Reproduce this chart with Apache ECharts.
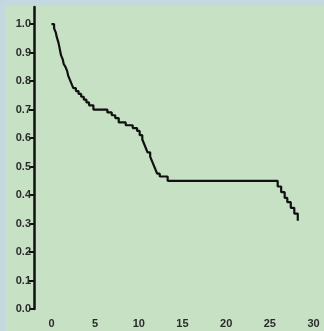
<!DOCTYPE html>
<html>
<head>
<meta charset="utf-8">
<script src="https://cdn.jsdelivr.net/npm/echarts@6/dist/echarts.min.js"></script>
<style>
html,body{margin:0;padding:0;background:#c3d9df;}
#panel{position:absolute;left:5px;top:6px;width:319px;height:325px;background:#c7e1c4;}
#chart{position:absolute;left:0;top:0;width:324px;height:331px;}
</style>
</head>
<body>
<div id="panel"></div>
<div id="chart"></div>
<script>
// Kaplan-Meier style step curve: event times and survival after each drop
var times = [0, 0.3, 0.5, 0.6, 0.8, 0.9, 1.0, 1.1, 1.3, 1.4, 1.6, 1.8, 1.9, 2.1, 2.3, 2.5, 2.8, 3.1, 3.4, 3.7, 4.0, 4.3, 4.8,
  6.4, 6.9, 7.3, 7.7, 8.5, 9.3, 9.8, 10.1, 10.4, 10.6, 10.8, 11.0, 11.3, 11.5, 11.7, 11.9, 12.1, 12.4, 13.3,
  25.9, 26.3, 26.7, 27.0, 27.4, 27.8, 28.2];
var survival = [1.00, 0.985, 0.97, 0.955, 0.935, 0.92, 0.905, 0.89, 0.875, 0.86, 0.85, 0.835, 0.82, 0.805, 0.79, 0.775, 0.765, 0.755, 0.745, 0.735, 0.725, 0.715, 0.70,
  0.69, 0.68, 0.67, 0.655, 0.645, 0.635, 0.625, 0.61, 0.595, 0.58, 0.565, 0.55, 0.535, 0.52, 0.505, 0.49, 0.475, 0.465, 0.45,
  0.43, 0.41, 0.39, 0.375, 0.355, 0.335, 0.31];
var xTickLabels = [0, 5, 10, 15, 20, 25, 30];
var yTickLabels = [0, 0.1, 0.2, 0.3, 0.4, 0.5, 0.6, 0.7, 0.8, 0.9, 1.0];

var data = times.map(function (t, i) { return [t, survival[i]]; });
var chart = echarts.init(document.getElementById('chart'), null, {renderer: 'canvas'});
var labelStyle = {color: '#2b2b2b', fontFamily: 'Liberation Sans', fontWeight: 'bold', fontSize: 11};
chart.setOption({
  backgroundColor: 'transparent',
  animation: false,
  grid: {left: 34, right: 10.5, top: 7, bottom: 22, containLabel: false},
  xAxis: {
    type: 'value', min: -2, max: 30,
    axisLine: {show: false, onZero: false},
    axisTick: {show: false},
    splitLine: {show: false},
    axisLabel: Object.assign({customValues: xTickLabels, margin: 9,
      formatter: function (v) { return String(v); }}, labelStyle)
  },
  yAxis: {
    type: 'value', min: 0, max: 1.06,
    axisLine: {show: true, onZero: false, lineStyle: {color: '#111', width: 2.5}},
    axisTick: {show: true, customValues: yTickLabels, length: 5, lineStyle: {color: '#111', width: 2}},
    splitLine: {show: false},
    axisLabel: Object.assign({customValues: yTickLabels, margin: 3,
      formatter: function (v) { return v.toFixed(1); }}, labelStyle)
  },
  series: [{
    type: 'line',
    step: 'end',
    data: data,
    showSymbol: false,
    lineStyle: {color: '#111', width: 2.2},
    z: 5
  }]
});
</script>
</body>
</html>
